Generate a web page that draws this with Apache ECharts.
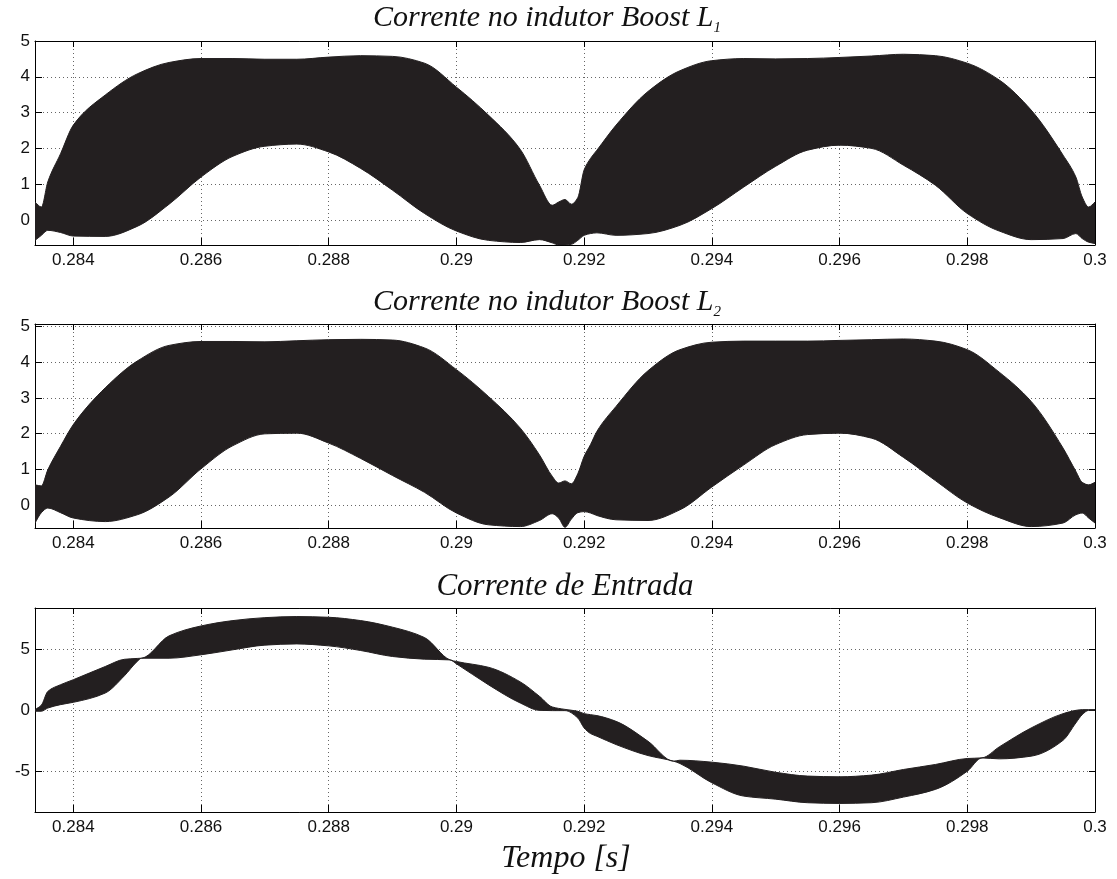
<!DOCTYPE html>
<html><head><meta charset="utf-8">
<script src="https://cdn.jsdelivr.net/npm/echarts@6/dist/echarts.min.js"></script>
<style>html,body{margin:0;padding:0;background:#fff}#c{width:1117px;height:879px}</style>
</head><body><div id="c"></div>
<script>
// Time samples (s) for the two inductor-current plots
const tL = [0.2834, 0.2835, 0.2836, 0.2838, 0.284, 0.2845, 0.285, 0.2855, 0.286, 0.2865, 0.287, 0.2875, 0.288, 0.2885, 0.289, 0.2895, 0.29, 0.2905, 0.291, 0.2913, 0.2915, 0.2916, 0.2917, 0.2918, 0.2919, 0.292, 0.2921, 0.2922, 0.2925, 0.293, 0.2935, 0.294, 0.2945, 0.295, 0.2955, 0.296, 0.2965, 0.297, 0.2975, 0.298, 0.2985, 0.299, 0.2995, 0.2997, 0.2998, 0.2999, 0.3];
// Upper / lower ripple envelope of inductor L1 current (A)
const upperL1 = [0.50, 0.36, 1.06, 1.85, 2.65, 3.49, 4.08, 4.40, 4.51, 4.51, 4.49, 4.49, 4.55, 4.59, 4.57, 4.38, 3.71, 2.93, 1.97, 0.97, 0.41, 0.50, 0.57, 0.44, 0.62, 1.40, 1.72, 1.95, 2.65, 3.59, 4.17, 4.45, 4.51, 4.50, 4.51, 4.54, 4.58, 4.63, 4.59, 4.38, 3.91, 3.07, 1.81, 1.20, 0.64, 0.36, 0.50];
const lowerL1 = [-0.57, -0.43, -0.29, -0.35, -0.45, -0.46, -0.18, 0.44, 1.20, 1.78, 2.06, 2.12, 1.90, 1.44, 0.83, 0.18, -0.31, -0.57, -0.63, -0.55, -0.64, -0.70, -0.70, -0.68, -0.57, -0.43, -0.38, -0.36, -0.43, -0.38, -0.15, 0.32, 0.92, 1.50, 1.95, 2.09, 2.00, 1.53, 0.97, 0.18, -0.31, -0.55, -0.52, -0.38, -0.52, -0.62, -0.66];
// Upper / lower ripple envelope of inductor L2 current (A)
const upperL2 = [0.56, 0.53, 0.98, 1.64, 2.25, 3.28, 4.03, 4.47, 4.58, 4.58, 4.57, 4.60, 4.63, 4.64, 4.62, 4.40, 3.79, 3.04, 2.15, 1.40, 0.80, 0.61, 0.67, 0.59, 0.87, 1.36, 1.69, 2.06, 2.76, 3.76, 4.35, 4.56, 4.59, 4.59, 4.59, 4.61, 4.63, 4.65, 4.59, 4.35, 3.72, 2.90, 1.59, 0.94, 0.63, 0.56, 0.63];
const lowerL2 = [-0.51, -0.22, -0.09, -0.22, -0.37, -0.47, -0.28, 0.22, 1.01, 1.66, 1.99, 2.01, 1.73, 1.30, 0.82, 0.35, -0.23, -0.56, -0.61, -0.44, -0.25, -0.37, -0.63, -0.40, -0.22, -0.19, -0.23, -0.30, -0.42, -0.44, -0.14, 0.50, 1.12, 1.69, 1.97, 2.01, 1.87, 1.33, 0.68, 0.05, -0.36, -0.61, -0.51, -0.28, -0.23, -0.37, -0.51];
// Time samples and envelope of input current (A)
const tIn = [0.2834, 0.2835, 0.2836, 0.2838, 0.284, 0.2845, 0.2848, 0.285, 0.28507, 0.2855, 0.286, 0.2865, 0.287, 0.2875, 0.288, 0.2885, 0.289, 0.2895, 0.2899, 0.29, 0.2905, 0.291, 0.2913, 0.2915, 0.2917, 0.2919, 0.292, 0.2921, 0.2922, 0.2925, 0.293, 0.2934, 0.2935, 0.294, 0.2945, 0.295, 0.2955, 0.296, 0.2965, 0.297, 0.2975, 0.298, 0.29823, 0.2985, 0.299, 0.2995, 0.2997, 0.2998, 0.2999, 0.3];
const upperIn = [0.03, 0.40, 1.52, 2.07, 2.48, 3.56, 4.15, 4.22, 4.24, 6.07, 6.88, 7.32, 7.56, 7.65, 7.59, 7.32, 6.78, 5.93, 4.10, 3.97, 3.50, 2.30, 1.12, 0.25, 0.05, -0.10, -0.30, -0.38, -0.46, -0.93, -2.56, -4.19, -4.11, -4.27, -4.60, -5.10, -5.41, -5.47, -5.33, -4.87, -4.46, -3.97, -3.92, -3.02, -1.47, -0.30, -0.03, 0.03, 0.03, 0.03];
const lowerIn = [-0.10, -0.10, 0.16, 0.44, 0.63, 1.39, 2.80, 3.97, 4.24, 4.24, 4.52, 4.93, 5.31, 5.41, 5.25, 4.87, 4.38, 4.16, 4.10, 3.78, 2.07, 0.57, -0.03, -0.05, -0.05, -0.65, -1.47, -1.93, -2.15, -2.83, -3.73, -4.19, -4.38, -5.96, -7.05, -7.30, -7.59, -7.65, -7.59, -7.13, -6.50, -5.01, -3.92, -4.00, -3.78, -2.48, -1.06, -0.38, -0.03, -0.03];

const xTickLabels = [0.284, 0.286, 0.288, 0.29, 0.292, 0.294, 0.296, 0.298, 0.3];
const yTicksL = [0, 1, 2, 3, 4, 5];
const yTicksIn = [-5, 0, 5];
const titleMain = ['Corrente no indutor Boost L', 'Corrente no indutor Boost L', 'Corrente de Entrada'];
const titleSub = ['1', '2', ''];
const xName = 'Tempo [s]';

const FILL = '#231f20';
const INK = '#111';
const gridTops = [41, 324, 608];
const gridH = 204;
const xMin = 0.2834, xMax = 0.3;
const yRanges = [[-0.7, 5], [-0.65, 5.07], [-8.35, 8.35]];
const ySplit = [5, 5, 3];
const yLabelSets = [yTicksL, yTicksL, yTicksIn];

function inList(v, list, eps) {
  for (const a of list) if (Math.abs(a - v) < eps) return a;
  return null;
}

const grids = [], xAxes = [], yAxes = [], series = [];
const splitStyle = { show: true, lineStyle: { color: '#666', type: [1, 3], width: 1 } };
const lineStyle = { show: true, onZero: false, lineStyle: { color: '#000', width: 1 } };
const sans = 'Liberation Sans, Arial, sans-serif';

for (let g = 0; g < 3; g++) {
  grids.push({ left: 35, right: 22, top: gridTops[g], height: gridH, containLabel: false });
  xAxes.push({
    gridIndex: g, type: 'value', position: 'bottom', min: xMin, max: xMax, splitNumber: 8,
    axisLine: lineStyle,
    axisTick: { show: true, inside: true, length: 7, lineStyle: { color: '#000' } },
    axisLabel: {
      show: true, margin: 7, color: INK, fontSize: 17, fontFamily: sans,
      showMinLabel: true, showMaxLabel: true,
      formatter: v => { const a = inList(v, xTickLabels, 1e-7); return a === null ? '' : String(a); }
    },
    splitLine: splitStyle
  });
  xAxes.push({
    gridIndex: g, type: 'value', position: 'top', min: xMin, max: xMax, splitNumber: 8,
    axisLine: lineStyle,
    axisTick: { show: true, inside: true, length: 6, lineStyle: { color: '#000' } },
    axisLabel: { show: false }, splitLine: { show: false }
  });
  const ys = yLabelSets[g];
  yAxes.push({
    gridIndex: g, type: 'value', position: 'left', min: yRanges[g][0], max: yRanges[g][1], splitNumber: ySplit[g],
    axisLine: lineStyle,
    axisTick: { show: true, inside: true, length: 7, lineStyle: { color: '#000' } },
    axisLabel: {
      show: true, margin: 5, color: INK, fontSize: 17, fontFamily: sans,
      formatter: v => { const a = inList(v, ys, 1e-6); return a === null ? '' : String(a); }
    },
    splitLine: splitStyle
  });
  yAxes.push({
    gridIndex: g, type: 'value', position: 'right', min: yRanges[g][0], max: yRanges[g][1], splitNumber: ySplit[g],
    axisLine: lineStyle,
    axisTick: { show: true, inside: true, length: 6, lineStyle: { color: '#000' } },
    axisLabel: { show: false }, splitLine: { show: false }
  });
}

// Monotone cubic (Fritsch-Carlson) bezier segments through pixel points
function monoSegments(p) {
  const n = p.length, dx = [], d = [], m = [];
  for (let k = 0; k < n - 1; k++) {
    dx.push(p[k + 1][0] - p[k][0]);
    d.push(dx[k] !== 0 ? (p[k + 1][1] - p[k][1]) / dx[k] : 0);
  }
  m[0] = d[0]; m[n - 1] = d[n - 2];
  for (let k = 1; k < n - 1; k++) {
    if (d[k - 1] * d[k] <= 0) m[k] = 0;
    else {
      const w1 = 2 * dx[k] + dx[k - 1], w2 = dx[k] + 2 * dx[k - 1];
      m[k] = (w1 + w2) / (w1 / d[k - 1] + w2 / d[k]);
    }
  }
  const segs = [];
  for (let k = 0; k < n - 1; k++) {
    const h = dx[k] / 3;
    segs.push([[p[k][0] + h, p[k][1] + m[k] * h], [p[k + 1][0] - h, p[k + 1][1] - m[k + 1] * h]]);
  }
  return segs;
}
const f = v => v.toFixed(2);

function band(g, ts, up, lo) {
  return {
    type: 'custom', xAxisIndex: 2 * g, yAxisIndex: 2 * g, clip: true, silent: true,
    data: [[ts[0], lo[0]]],
    renderItem: function (params, api) {
      const U = [], L = [];
      for (let i = 0; i < ts.length; i++) { U.push(api.coord([ts[i], up[i]])); L.push(api.coord([ts[i], lo[i]])); }
      const su = monoSegments(U), sl = monoSegments(L);
      let s = 'M' + f(U[0][0]) + ' ' + f(U[0][1]);
      for (let k = 0; k < su.length; k++) {
        s += ' C' + f(su[k][0][0]) + ' ' + f(su[k][0][1]) + ' ' + f(su[k][1][0]) + ' ' + f(su[k][1][1]) + ' ' + f(U[k + 1][0]) + ' ' + f(U[k + 1][1]);
      }
      const n = L.length;
      s += ' L' + f(L[n - 1][0]) + ' ' + f(L[n - 1][1]);
      for (let k = sl.length - 1; k >= 0; k--) {
        s += ' C' + f(sl[k][1][0]) + ' ' + f(sl[k][1][1]) + ' ' + f(sl[k][0][0]) + ' ' + f(sl[k][0][1]) + ' ' + f(L[k][0]) + ' ' + f(L[k][1]);
      }
      s += ' Z';
      return { type: 'path', shape: { pathData: s }, style: { fill: FILL, stroke: FILL, lineWidth: 1 } };
    }
  };
}
series.push(band(0, tL, upperL1, lowerL1));
series.push(band(1, tL, upperL2, lowerL2));
series.push(band(2, tIn, upperIn, lowerIn));

const serif = 'Liberation Serif, Times New Roman, serif';
const titleX = [547, 547, 565];
const titleY = [18, 302, 587];
const titleSize = [30, 30, 31];
const graphic = [];
for (let g = 0; g < 3; g++) {
  const txt = titleSub[g] ? '{a|' + titleMain[g] + '}{s|' + titleSub[g] + '}' : '{a|' + titleMain[g] + '}';
  graphic.push({
    type: 'text', x: titleX[g], y: titleY[g], silent: true,
    style: {
      text: txt, align: 'center', verticalAlign: 'middle',
      rich: {
        a: { fontFamily: serif, fontStyle: 'italic', fontSize: titleSize[g], lineHeight: 36, fill: INK },
        s: { fontFamily: serif, fontStyle: 'italic', fontSize: 15, lineHeight: 15, verticalAlign: 'bottom', fill: INK }
      }
    }
  });
}
graphic.push({
  type: 'text', x: 566, y: 859, silent: true,
  style: { text: xName, align: 'center', verticalAlign: 'middle', font: 'italic 32px ' + serif, fill: INK }
});

const chart = echarts.init(document.getElementById('c'), null, { renderer: 'canvas' });
chart.setOption({
  animation: false,
  backgroundColor: '#fff',
  grid: grids, xAxis: xAxes, yAxis: yAxes, series: series, graphic: graphic
});
</script></body></html>
